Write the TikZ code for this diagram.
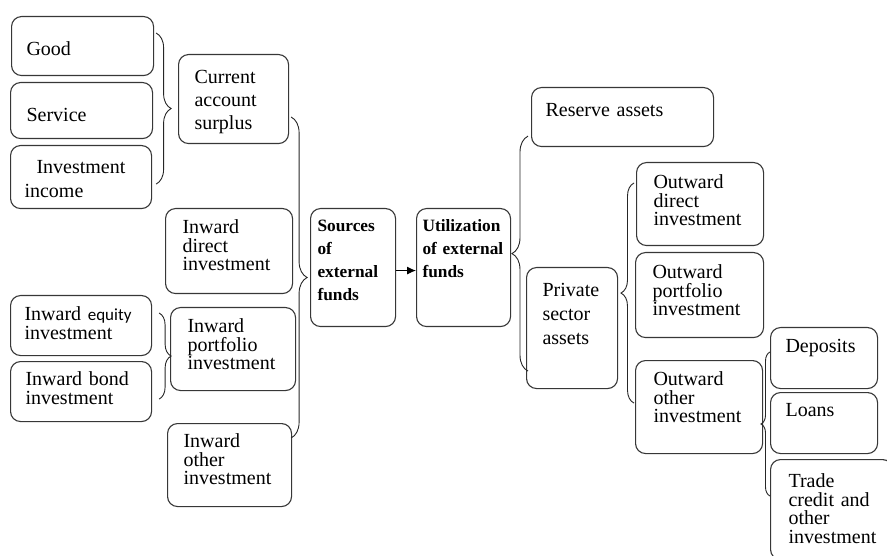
\documentclass[tikz,border=0pt]{standalone}
\usepackage{fontspec}
\setmainfont{Liberation Serif}
\newfontfamily\eqfont{Carlito}
\usepackage{xcolor}
\definecolor{edgegray}{RGB}{55,55,55}
\usepackage{tikz}
\usetikzlibrary{arrows.meta, decorations.pathreplacing}

\tikzset{
  item/.style={draw=edgegray, line width=1.1pt, rounded corners=10pt, anchor=north west,
    align=left, inner ysep=0pt, font=\fontsize{20}{23}\selectfont},
  tight/.style={font=\fontsize{20}{18.5}\selectfont},
  head/.style={font=\fontsize{17.3}{23}\selectfont\bfseries},
  gather/.style={draw=black!85, line width=0.9pt, decorate, decoration={brace, amplitude=#1}},
}

\begin{document}
\begin{tikzpicture}[x=1pt, y=-1pt, >={Latex[length=9pt, width=8pt]}]
    \clip (0,0) rectangle (887,556);

    % sources of external funds
    \node[item, inner xsep=15pt, text width=112pt, text height=39pt, text depth=20pt] (good) at (11,16) {Good};
    \node[item, inner xsep=16pt, text width=110pt, text height=39pt, text depth=17pt] (service) at (10,82) {Service};
    \node[item, inner xsep=14pt, text width=113pt, text height=28pt, text depth=35pt, font=\fontsize{20}{24}\selectfont] (income) at (10,145) {\hspace*{12pt}Investment\\income};
    \node[item, inner xsep=16pt, text width=78pt, text height=29pt, text depth=60pt] (current) at (178,54) {Current\\account\\surplus};
    \node[item, tight, inner xsep=17pt, text width=93pt, text height=25pt, text depth=60pt] (idirect) at (165,208) {Inward\\direct\\investment};
    \node[item, tight, inner xsep=14pt, text width=113pt, text height=25pt, text depth=35pt] (equity) at (10,295) {Inward~{\eqfont\fontsize{17}{18.5}\selectfont equity}\\investment};
    \node[item, tight, inner xsep=15pt, text width=111pt, text height=24pt, text depth=36pt] (bond) at (10,361) {Inward~bond\\investment};
    \node[item, tight, inner xsep=17pt, text width=91pt, text height=25pt, text depth=58pt] (iport) at (170,307) {Inward\\portfolio\\investment};
    \node[item, tight, inner xsep=16pt, text width=92pt, text height=24pt, text depth=59pt] (iother) at (167,423) {Inward\\other\\investment};

    % the two central boxes
    \node[item, head, inner xsep=7pt, text width=71pt, text height=23pt, text depth=95pt] (sources) at (310,208) {Sources\\of\\external\\funds};
    \node[item, head, inner xsep=6pt, text width=82pt, text height=23pt, text depth=95pt] (util) at (416,208) {Utilization\\of~external\\funds};
    \draw[->, line width=0.9pt] ([yshift=-3]sources.east) -- ([yshift=-3]util.west);

    % utilization of external funds
    \node[item, inner xsep=14pt, text width=154pt, text height=29pt, text depth=30pt] (reserve) at (531,87) {Reserve assets};
    \node[item, inner xsep=16pt, text width=59pt, text height=29pt, text depth=92pt, font=\fontsize{20}{24}\selectfont] (private) at (526,267) {Private\\sector\\assets};
    \node[item, tight, inner xsep=17pt, text width=93pt, text height=26pt, text depth=57pt] (odirect) at (636,162) {Outward\\direct\\investment};
    \node[item, tight, inner xsep=17pt, text width=94pt, text height=26pt, text depth=59pt] (oport) at (635,252) {Outward\\portfolio\\investment};
    \node[item, tight, inner xsep=18pt, text width=91pt, text height=25pt, text depth=68pt] (oother) at (635,360) {Outward\\other\\investment};
    \node[item, inner xsep=15pt, text width=77pt, text height=25pt, text depth=36pt] (deposits) at (770,327) {Deposits};
    \node[item, inner xsep=15pt, text width=77pt, text height=24pt, text depth=37pt] (loans) at (770,392) {Loans};
    \node[item, tight, inner xsep=18pt, text width=86pt, text height=28pt, text depth=72pt] (trade) at (770,459) {Trade\\credit~and\\other\\investment};

    % braces grouping the parts
    \draw[gather=15pt] ([shift={(2,17)}]good.north east) -- ([shift={(4,-25)}]income.south east);
    \draw[gather=12pt] ([shift={(7,18)}]equity.north east) -- ([shift={(7,-23)}]bond.south east);
    \draw[gather=16pt] ([shift={(2,63)}]current.north east) -- ([shift={(-1,15)}]iother.north east);
    \draw[gather=16pt] ([shift={(2,-18)}]private.south west) -- ([shift={(-3,-11)}]reserve.south west);
    \draw[gather=13pt] ([shift={(-1,-51)}]oother.south west) -- ([shift={(-2,21)}]odirect.north west);
    \draw[gather=9pt] ([shift={(0,37)}]trade.north west) -- ([shift={(0,25)}]deposits.north west);
\end{tikzpicture}
\end{document}
